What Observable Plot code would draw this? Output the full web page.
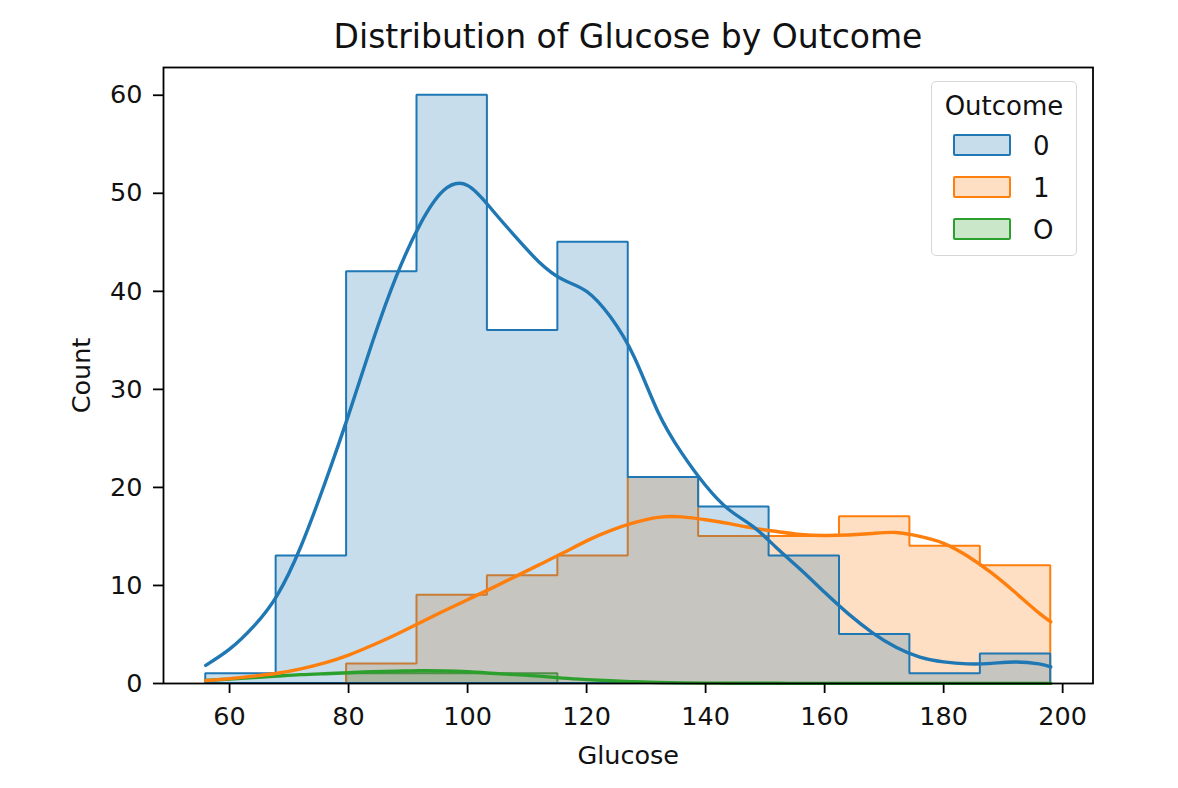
<!DOCTYPE html>
<html><head><meta charset="utf-8">
<script src="https://cdn.jsdelivr.net/npm/d3@7"></script>
<script src="https://cdn.jsdelivr.net/npm/@observablehq/plot@0.6"></script>
<style>
body{margin:0;background:#fff;font-family:"DejaVu Sans",sans-serif;color:#111;}
#wrap{position:relative;width:1178px;height:788px;overflow:hidden;}
#title{position:absolute;left:163px;width:930px;top:17px;text-align:center;font-size:33px;white-space:nowrap;}
#chart{position:absolute;left:0;top:55px;}
#legendBox{position:absolute;left:931px;top:81px;width:144px;height:173px;border:1.5px solid #d6d6d6;border-radius:5px;background:rgba(255,255,255,0.8);}
.lt{position:absolute;font-size:26px;line-height:26px;white-space:nowrap;}
.sw{position:absolute;width:54px;height:18px;border:2px solid;border-radius:2px;}
</style></head>
<body>
<div id="wrap">
  <div id="title">Distribution of Glucose by Outcome</div>
  <div id="chart"></div>
  <div id="legendBox"></div>
</div>
<script>
// Histogram bin edges (Glucose) and counts per Outcome
const binEdges = [56, 67.83, 79.67, 91.5, 103.33, 115.17, 127, 138.83, 150.67, 162.5, 174.33, 186.17, 198];
const outcomes = ["0", "1", "O"];
const colors = ["#1f77b4", "#ff7f0e", "#2ca02c"];
const counts0 = [1, 13, 42, 60, 36, 45, 21, 18, 13, 5, 1, 3];
const counts1 = [0, 0, 2, 9, 11, 13, 21, 15, 15, 17, 14, 12];
const countsO = [0, 0, 1, 1, 1, 0, 0, 0, 0, 0, 0, 0];

// KDE curves (count scale)
const kdeX = [56, 60, 64, 68, 72, 76, 80, 84, 88, 92, 96, 100, 104, 108, 112, 116, 120, 124, 128, 132, 136, 140, 144, 148, 152, 156, 160, 164, 168, 172, 176, 180, 184, 188, 192, 196, 198];
const kde0 = [1.85, 3.5, 5.8, 9.0, 14.0, 20.4, 27.4, 34.8, 41.5, 46.8, 50.3, 50.8, 48.4, 45.6, 43.0, 41.2, 40.0, 37.4, 33.3, 27.7, 23.5, 20.2, 17.7, 16.0, 13.8, 11.6, 9.3, 7.1, 5.2, 3.7, 2.7, 2.2, 2.0, 2.05, 2.2, 2.0, 1.7];
const kde1 = [0.3, 0.5, 0.75, 1.05, 1.5, 2.1, 2.9, 3.9, 5.0, 6.2, 7.4, 8.55, 9.7, 10.9, 12.1, 13.3, 14.55, 15.6, 16.4, 16.95, 17.0, 16.7, 16.3, 15.85, 15.5, 15.2, 15.1, 15.15, 15.3, 15.4, 15.0, 14.3, 13.0, 11.3, 9.3, 7.2, 6.3];
const kdeO = [0.3, 0.45, 0.6, 0.75, 0.9, 1.0, 1.1, 1.2, 1.25, 1.3, 1.28, 1.2, 1.05, 0.9, 0.75, 0.55, 0.4, 0.28, 0.18, 0.1, 0.06, 0.04, 0.03, 0.02, 0.02, 0.01, 0.01, 0.01, 0.01, 0.01, 0.01, 0.01, 0.01, 0.01, 0.01, 0.01, 0.01];

const xTicks = [60, 80, 100, 120, 140, 160, 180, 200];
const yTicks = [0, 10, 20, 30, 40, 50, 60];

function stepRows(counts) {
  const rows = counts.map((c, i) => ({x: binEdges[i], count: c}));
  rows.push({x: binEdges[binEdges.length - 1], count: counts[counts.length - 1]});
  return rows;
}
function kdeRows(vals) { return kdeX.map((x, i) => ({x, y: vals[i]})); }

const histSets = [stepRows(counts0), stepRows(counts1), stepRows(countsO)];
const kdeSets = [kdeRows(kde0), kdeRows(kde1), kdeRows(kdeO)];

const marks = [];
// histograms drawn in reverse hue order (first hue on top)
for (let k = 2; k >= 0; k--) {
  marks.push(Plot.areaY(histSets[k], {x: "x", y: "count", curve: "step-after",
    fill: colors[k], fillOpacity: 0.25, stroke: colors[k], strokeWidth: 2, strokeLinejoin: "miter"}));
}
for (let k = 2; k >= 0; k--) {
  marks.push(Plot.lineY(kdeSets[k], {x: "x", y: "y", curve: "natural", stroke: colors[k], strokeWidth: 3.4}));
}
marks.push(Plot.frame({stroke: "#000", strokeWidth: 1.8}));
marks.push(Plot.axisX({ticks: xTicks, tickSize: 10, tickPadding: 13, strokeWidth: 1.8, stroke: "#000",
  label: "Glucose", labelAnchor: "center", labelArrow: "none", labelOffset: 80}));
marks.push(Plot.axisY({ticks: yTicks, tickSize: 10, tickPadding: 11, strokeWidth: 1.8, stroke: "#000",
  label: "Count", labelAnchor: "center", labelArrow: "none", labelOffset: 92}));

const chart = Plot.plot({
  width: 1178, height: 733,
  marginLeft: 163, marginRight: 85.5, marginTop: 12, marginBottom: 105,
  x: {domain: [48.9, 205.1]},
  y: {domain: [0, 62.83]},
  style: {fontFamily: "DejaVu Sans", fontSize: "25.5px", color: "#111", background: "transparent"},
  marks
});
document.getElementById("chart").appendChild(chart);

// Legend
const wrap = document.getElementById("wrap");
function addText(txt, left, top, extra) {
  const d = document.createElement("div");
  d.className = "lt"; d.textContent = txt;
  d.style.left = left + "px"; d.style.top = top + "px";
  if (extra) Object.assign(d.style, extra);
  wrap.appendChild(d);
}
addText("Outcome", 931, 92.5, {width: "146px", textAlign: "center"});
const rowY = [145, 187, 229];
outcomes.forEach((o, i) => {
  const s = document.createElement("div");
  s.className = "sw";
  const c = d3.color(colors[i]);
  s.style.borderColor = colors[i];
  s.style.background = `rgba(${c.r},${c.g},${c.b},0.25)`;
  s.style.left = "953px"; s.style.top = (rowY[i] - 11) + "px";
  wrap.appendChild(s);
  addText(o, 1033, rowY[i] - 12.5);
});
</script>
</body></html>
